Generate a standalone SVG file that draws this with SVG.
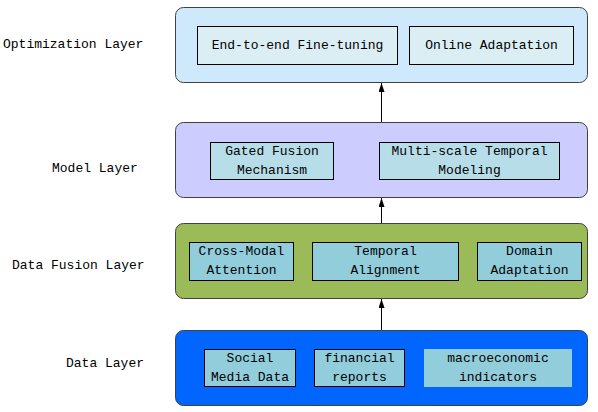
<svg xmlns="http://www.w3.org/2000/svg" width="598" height="412" viewBox="0 0 598 412">
<defs>
<marker id="ah" markerWidth="9" markerHeight="6" refX="9" refY="3" orient="auto" markerUnits="userSpaceOnUse" viewBox="0 0 9 6">
<path d="M0,0 L9,3 L0,6 Z" fill="#000"/>
</marker>
</defs>
<style>
text{font-family:"Liberation Mono","DejaVu Sans Mono",monospace;font-size:13px;fill:#000;text-anchor:middle;dominant-baseline:central}
.lbl{text-anchor:start}
.outer{stroke:#404040;stroke-width:1}
.inner{stroke:#000;stroke-width:1}
.conn{stroke:#000;stroke-width:1;fill:none}
</style>
<rect width="598" height="412" fill="#fff"/>
<g id="label-opt"><text class="lbl" x="3" y="44">Optimization Layer</text></g>
<g id="label-model"><text class="lbl" x="52" y="168">Model Layer</text></g>
<g id="label-fusion"><text class="lbl" x="12" y="265">Data Fusion Layer</text></g>
<g id="label-data"><text class="lbl" x="66" y="363">Data Layer</text></g>

<g id="optimization-layer">
<rect class="outer" x="175.5" y="7.5" width="412" height="75" rx="8" fill="#cde9fb"/>
<g id="end-to-end"><rect class="inner" x="197.5" y="26.5" width="200" height="38" fill="#dbeef4"/><text x="297.5" y="45">End-to-end Fine-tuning</text></g>
<g id="online-adaptation"><rect class="inner" x="409.5" y="26.5" width="164" height="38" fill="#dbeef4"/><text x="491.5" y="45">Online Adaptation</text></g>
</g>

<g id="model-layer">
<rect class="outer" x="175.5" y="122.5" width="412" height="75" rx="8" fill="#ccccff"/>
<g id="gated-fusion"><rect class="inner" x="210.5" y="142.5" width="123" height="37" fill="#b7dde8"/><text x="272" y="151">Gated Fusion</text><text x="272" y="170">Mechanism</text></g>
<g id="multi-scale"><rect class="inner" x="379.5" y="142.5" width="180" height="37" fill="#b7dde8"/><text x="469.5" y="151">Multi-scale Temporal</text><text x="469.5" y="170">Modeling</text></g>
</g>

<g id="fusion-layer">
<rect class="outer" x="175.5" y="223.5" width="412" height="75" rx="8" fill="#9bbb59"/>
<g id="cross-modal"><rect class="inner" x="189.5" y="242.5" width="104" height="38" fill="#92cddc"/><text x="241.5" y="251">Cross-Modal</text><text x="241.5" y="270">Attention</text></g>
<g id="temporal-alignment"><rect class="inner" x="312.5" y="242.5" width="146" height="38" fill="#92cddc"/><text x="385.5" y="251">Temporal</text><text x="385.5" y="270">Alignment</text></g>
<g id="domain-adaptation"><rect class="inner" x="477.5" y="242.5" width="104" height="38" fill="#92cddc"/><text x="529.5" y="251">Domain</text><text x="529.5" y="270">Adaptation</text></g>
</g>

<g id="data-layer">
<rect class="outer" x="175.5" y="330.5" width="412" height="75" rx="8" fill="#0066ff"/>
<g id="social-media"><rect class="inner" x="204.5" y="349.5" width="91" height="37" fill="#92cddc"/><text x="250" y="358">Social</text><text x="250" y="377">Media Data</text></g>
<g id="financial-reports"><rect class="inner" x="314.5" y="349.5" width="90" height="37" fill="#92cddc"/><text x="359.5" y="358">financial</text><text x="359.5" y="377">reports</text></g>
<g id="macro-indicators"><rect x="424" y="349" width="148" height="38" fill="#92cddc"/><text x="498" y="358">macroeconomic</text><text x="498" y="377">indicators</text></g>
</g>

<g id="connectors">
<line class="conn" x1="381.5" y1="330" x2="381.5" y2="299" marker-end="url(#ah)"/>
<line class="conn" x1="381.5" y1="223" x2="381.5" y2="198" marker-end="url(#ah)"/>
<line class="conn" x1="381.5" y1="122" x2="381.5" y2="83" marker-end="url(#ah)"/>
</g>
</svg>
